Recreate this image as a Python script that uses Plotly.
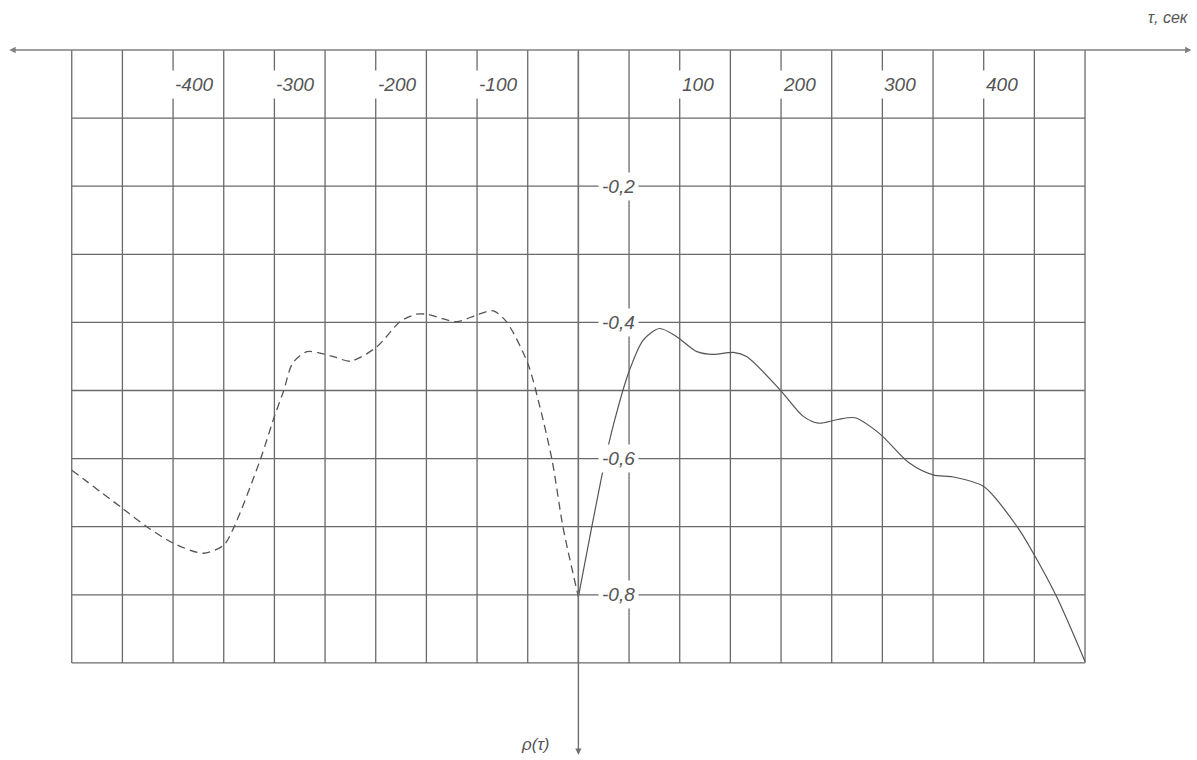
import numpy as np
import plotly.graph_objects as go

# Correlation function rho(tau): dashed branch for negative shifts
tau_neg = [-500, -450, -426, -400, -370, -350, -340, -314, -300, -291, -282, -268,
           -255, -240, -225, -199, -176, -160, -150, -135, -120, -100, -84, -71,
           -50, -38, -26, -15, 0]
rho_neg = [-0.617, -0.673, -0.700, -0.724, -0.739, -0.727, -0.701, -0.602, -0.538,
           -0.501, -0.460, -0.443, -0.445, -0.451, -0.457, -0.436, -0.399, -0.388,
           -0.388, -0.394, -0.399, -0.389, -0.383, -0.399, -0.460, -0.524, -0.602,
           -0.702, -0.803]

# Solid branch for positive shifts
tau_pos = [0, 25, 35, 50, 64, 80, 97, 117, 133, 153, 166, 199, 222, 237, 255, 273,
           297, 327, 350, 370, 400, 433, 449, 472, 500]
rho_pos = [-0.803, -0.612, -0.548, -0.472, -0.426, -0.409, -0.421, -0.443, -0.447,
           -0.444, -0.450, -0.499, -0.538, -0.548, -0.543, -0.540, -0.563, -0.607,
           -0.624, -0.627, -0.641, -0.700, -0.739, -0.803, -0.898]

tau_ticks = [-400, -300, -200, -100, 100, 200, 300, 400]
tau_tick_text = ["-400", "-300", "-200", "-100", "100", "200", "300", "400"]
rho_ticks = [-0.2, -0.4, -0.6, -0.8]
rho_tick_text = ["-0,2", "-0,4", "-0,6", "-0,8"]

grid_tau = np.arange(-500, 501, 50)
grid_rho = np.round(np.arange(-0.1, -0.91, -0.1), 2)

GRID = "#6a6a6a"
INK = "#555555"
FONT = "Liberation Sans, Arial, sans-serif"

fig = go.Figure()

fig.add_trace(go.Scatter(
    x=tau_neg, y=rho_neg, mode="lines",
    line=dict(color=INK, width=1.3, dash="8px,5px", shape="spline", smoothing=0.8),
    hoverinfo="skip", showlegend=False))
fig.add_trace(go.Scatter(
    x=tau_pos, y=rho_pos, mode="lines",
    line=dict(color=INK, width=1.2, shape="spline", smoothing=0.8),
    hoverinfo="skip", showlegend=False))

shapes = []
for t in grid_tau:
    shapes.append(dict(type="line", xref="x", yref="y", x0=t, x1=t, y0=-0.9, y1=0,
                       line=dict(color=GRID, width=1.3), layer="below"))
for r in grid_rho:
    shapes.append(dict(type="line", xref="x", yref="y", x0=-500, x1=500, y0=r, y1=r,
                       line=dict(color=GRID, width=1.3), layer="below"))

annotations = []
# tau axis with arrows at both ends
annotations.append(dict(x=605, y=0, ax=-563, ay=0, xref="x", yref="y", axref="x", ayref="y",
                        text="", showarrow=True, arrowhead=2, arrowside="end+start",
                        arrowsize=0.9, arrowwidth=1.4, arrowcolor="#808080"))
# rho axis pointing downwards
annotations.append(dict(x=0, y=-1.035, ax=0, ay=0, xref="x", yref="y", axref="x", ayref="y",
                        text="", showarrow=True, arrowhead=2, arrowsize=0.9,
                        arrowwidth=1.4, arrowcolor="#707070"))

for t, s in zip(tau_ticks, tau_tick_text):
    annotations.append(dict(x=t, y=-0.05, xref="x", yref="y", text=s, showarrow=False,
                            xanchor="left", yanchor="middle", xshift=-2,
                            bgcolor="white", borderpad=3,
                            font=dict(family=FONT, size=19, color=INK, style="italic")))
for r, s in zip(rho_ticks, rho_tick_text):
    annotations.append(dict(x=40, y=r, xref="x", yref="y", text=s, showarrow=False,
                            xanchor="center", yanchor="middle",
                            bgcolor="white", borderpad=3,
                            font=dict(family=FONT, size=19, color=INK, style="italic")))

annotations.append(dict(x=582, y=0.048, xref="x", yref="y", text="\u03c4, \u0441\u0435\u043a",
                        showarrow=False, xanchor="center", yanchor="middle",
                        font=dict(family=FONT, size=16, color=INK, style="italic")))
annotations.append(dict(x=-43, y=-1.02, xref="x", yref="y", text="\u03c1(\u03c4)",
                        showarrow=False, xanchor="center", yanchor="middle",
                        font=dict(family=FONT, size=17, color=INK, style="italic")))

fig.update_layout(
    width=1197, height=760,
    margin=dict(l=0, r=0, t=0, b=0),
    paper_bgcolor="white", plot_bgcolor="white",
    xaxis=dict(range=[-570.8, 610.5], visible=False, fixedrange=True),
    yaxis=dict(range=[-1.0426, 0.0734], visible=False, fixedrange=True),
    shapes=shapes, annotations=annotations,
)

fig.write_html("out.html")
